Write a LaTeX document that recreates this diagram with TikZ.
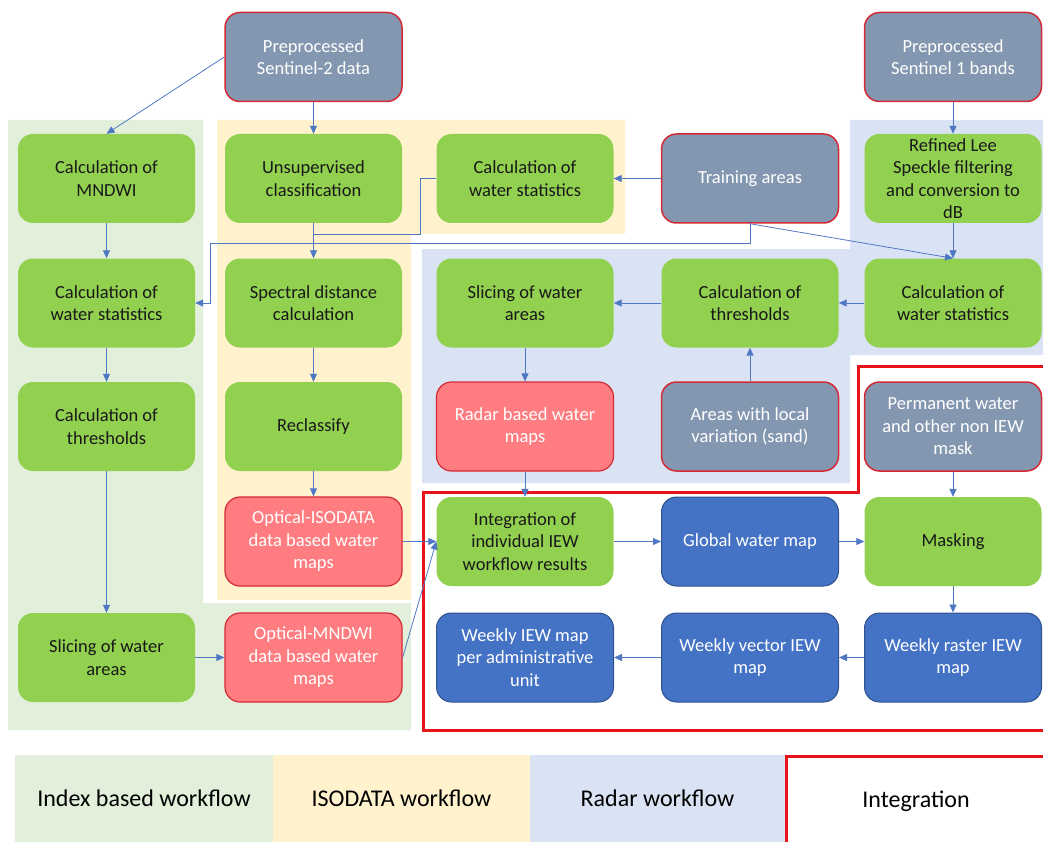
\documentclass[tikz,border=0pt]{standalone}
\usepackage{fontspec}
\setmainfont{Carlito}
\usetikzlibrary{arrows.meta}
\definecolor{boxgreen}{HTML}{92D050}
\definecolor{boxgray}{HTML}{8497B0}
\definecolor{boxred}{HTML}{FF7C80}
\definecolor{boxblue}{HTML}{4472C4}
\definecolor{edgered}{HTML}{D42A36}
\definecolor{edgeblue}{HTML}{2F528F}
\definecolor{linkblue}{HTML}{4F78C4}
\definecolor{bgindex}{HTML}{E2EFDA}
\definecolor{bgiso}{HTML}{FFF2CC}
\definecolor{bgradar}{HTML}{DAE3F3}
\definecolor{intred}{HTML}{E8141C}
\tikzstyle{box}=[rectangle,rounded corners=15pt,minimum width=177pt,minimum height=89pt,align=center,inner sep=0pt,font=\fontsize{18.5}{22.5}\selectfont]
\tikzstyle{proc}=[box,fill=boxgreen,text=black!90]
\tikzstyle{datain}=[box,fill=boxgray,draw=edgered,line width=1.5pt,text=white]
\tikzstyle{wmap}=[box,fill=boxred,draw=edgered,line width=1.2pt,text=white]
\tikzstyle{outmap}=[box,fill=boxblue,draw=edgeblue,line width=1pt,text=white]
\tikzstyle{link}=[draw=linkblue,line width=0.8pt]
\tikzstyle{arr}=[link,-{Triangle[length=8pt,width=7pt]}]
\tikzstyle{legend}=[rectangle,minimum height=87pt,inner sep=0pt,font=\fontsize{24}{28}\selectfont]
\newcommand{\proc}{\node[proc]}

\begin{document}
\begin{tikzpicture}[x=1pt,y=-1pt]
			\useasboundingbox (0,0) rectangle (1043,842);
			% % % % % % % % % % % % % % % % % % % % % % % % % % % % % 
			% workflow areas
			\fill[bgindex] (8,120) -- (203,120) -- (203,603) -- (411,603) -- (411,730) -- (8,730) -- cycle;
			\fill[bgiso] (217,120) -- (625,120) -- (625,234) -- (411,234) -- (411,600) -- (217,600) -- cycle;
			\fill[bgradar] (422,249) -- (850,249) -- (850,120) -- (1043,120) -- (1043,355) -- (850,355) -- (850,483) -- (422,483) -- cycle;
			\draw[intred,line width=3pt] (423,492) -- (858,492) -- (858,366) -- (1047,366) -- (1047,730) -- (423,730) -- cycle;
			%*********************
			\node[datain] (s2) at (313.5,57) {Preprocessed\\Sentinel-2 data};
			\node[datain] (s1) at (953,57) {Preprocessed\\Sentinel 1 bands};
			%*********************
			\proc (mndwi) at (106.5,178.5) {Calculation of\\MNDWI};
			\proc (unsup) at (313.5,178.5) {Unsupervised\\classification};
			\proc (wsI) at (525,178.5) {Calculation of\\water statistics};
			\node[datain] (train) at (750,178.5) {Training areas};
			\proc (lee) at (953,178.5) {Refined Lee\\Speckle filtering\\and conversion to\\dB};
			%*********************
			\proc (ws1) at (106.5,303) {Calculation of\\water statistics};
			\proc (spec) at (313.5,303) {Spectral distance\\calculation};
			\proc (sliceR) at (525,303) {Slicing of water\\areas};
			\proc (thrR) at (750,303) {Calculation of\\thresholds};
			\proc (wsR) at (953,303) {Calculation of\\water statistics};
			%*********************
			\proc (thr1) at (106.5,426.5) {Calculation of\\thresholds};
			\proc (recl) at (313.5,426.5) {Reclassify};
			\node[wmap] (radar) at (525,426.5) {Radar based water\\maps};
			\node[datain] (sand) at (750,426.5) {Areas with local\\variation (sand)};
			\node[datain] (perm) at (953,426.5) {Permanent water\\and other non IEW\\mask};
			%*********************
			\node[wmap] (oiso) at (313.5,541.5) {Optical-ISODATA\\data based water\\maps};
			\proc (integ) at (525,541.5) {Integration of\\individual IEW\\workflow results};
			\node[outmap] (glob) at (750,541.5) {Global water map};
			\proc (mask) at (953,541.5) {Masking};
			%*********************
			\proc (slice1) at (106.5,657.5) {Slicing of water\\areas};
			\node[wmap] (omnd) at (313.5,657.5) {Optical-MNDWI\\data based water\\maps};
			\node[outmap] (admin) at (525,657.5) {Weekly IEW map\\per administrative\\unit};
			\node[outmap] (vect) at (750,657.5) {Weekly vector IEW\\map};
			\node[outmap] (rast) at (953,657.5) {Weekly raster IEW\\map};
			% % % % % % % % % % % % % % % % %
			\coordinate (k1) at (420,234);
			\coordinate (k2) at (313.5,234);
			\coordinate (t1) at (750,243);
			\coordinate (t2) at (210,243);
			\draw[link] (wsI.west) -| (k1) -- (k2);
			\draw[arr] (train.south) -- (t1) -- (t2) |- (ws1.east);
			\path
			% % % % % % % % % % % % % % % % %
			(s2.west) edge[arr] (mndwi.north)
			(s2) edge[arr] (unsup)
			(s1) edge[arr] (lee)
			(mndwi) edge[arr] (ws1)
			(ws1) edge[arr] (thr1)
			(thr1) edge[arr] (slice1)
			(slice1) edge[arr] (omnd)
			%**************
			(unsup) edge[arr] (spec)
			(spec) edge[arr] (recl)
			(recl) edge[arr] (oiso)
			(train) edge[arr] (wsI)
			%**************
			(train.south) edge[arr] (wsR.north)
			(lee) edge[arr] (wsR)
			(wsR) edge[arr] (thrR)
			(thrR) edge[arr] (sliceR)
			(sliceR) edge[arr] (radar)
			(sand) edge[arr] (thrR)
			%**************
			(radar) edge[arr] (integ)
			(oiso.east) edge[arr] (integ.west)
			(omnd.east) edge[arr] (integ.west)
			(integ) edge[arr] (glob)
			(glob) edge[arr] (mask)
			(perm) edge[arr] (mask)
			(mask) edge[arr] (rast)
			(rast) edge[arr] (vect)
			(vect) edge[arr] (admin)
			;
			% % % % % % % % % % % % % % % % %
			\node[legend,fill=bgindex,minimum width=258pt] (lgI) at (144,798.5) {Index based workflow};
			\node[legend,fill=bgiso,minimum width=257pt] (lgO) at (401.5,798.5) {ISODATA workflow};
			\node[legend,fill=bgradar,minimum width=255pt] (lgR) at (657.5,798.5) {Radar workflow};
			\draw[intred,line width=3pt] (786.5,756.5) rectangle (1047,846);
			\node[legend] (lgX) at (916,801) {Integration};
\end{tikzpicture}
\end{document}
